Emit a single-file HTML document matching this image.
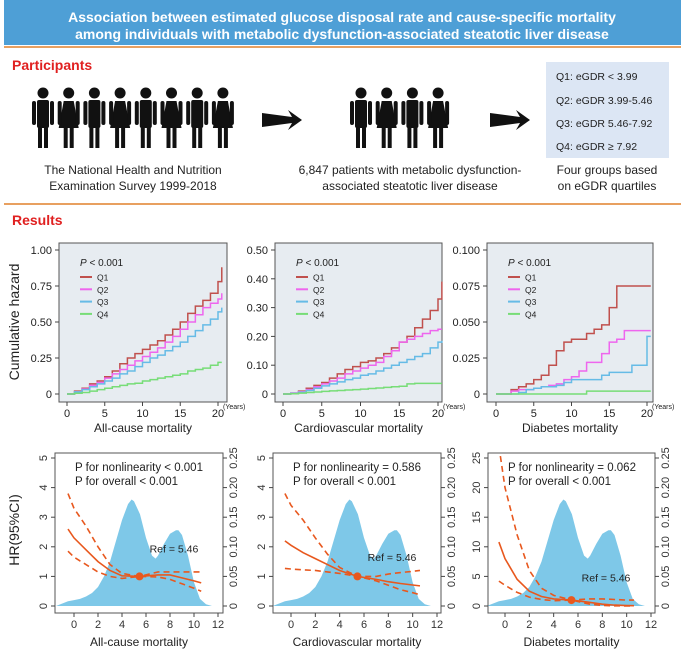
<!DOCTYPE html>
<html><head><meta charset="utf-8"><style>
body{margin:0;background:#fff}
svg{display:block;font-family:"Liberation Sans",sans-serif}
</style></head><body>
<svg id="s" width="685" height="653" viewBox="0 0 685 653" xmlns="http://www.w3.org/2000/svg">
<rect x="4" y="0" width="677" height="45" fill="#4e9fd6"/>
<text x="342" y="22" text-anchor="middle" fill="#fff" font-weight="bold" font-size="14">Association between estimated glucose disposal rate and cause-specific mortality</text>
<text x="342" y="39" text-anchor="middle" fill="#fff" font-weight="bold" font-size="14">among individuals with metabolic dysfunction-associated steatotic liver disease</text>
<line x1="4" y1="47" x2="681" y2="47" stroke="#e8a060" stroke-width="2"/>
<text x="12" y="70" fill="#e02020" font-weight="bold" font-size="14">Participants</text>
<g id="people1"></g>
<g id="people2"></g>
<path d="M262,113 L292,117 L288,110 L302,120 L288,130 L292,123 L262,127 Z" fill="#111"/>
<path d="M490,113 L520,117 L516,110 L530,120 L516,130 L520,123 L490,127 Z" fill="#111"/>
<rect x="546" y="62" width="123" height="96" fill="#dce6f4"/>
<g font-size="10.5" fill="#222">
<text x="556" y="80">Q1: eGDR &lt; 3.99</text>
<text x="556" y="104">Q2: eGDR 3.99-5.46</text>
<text x="556" y="127">Q3: eGDR 5.46-7.92</text>
<text x="556" y="150">Q4: eGDR ≥ 7.92</text>
</g>
<g font-size="12" fill="#222" text-anchor="middle">
<text x="133" y="174">The National Health and Nutrition</text>
<text x="133" y="190">Examination Survey 1999-2018</text>
<text x="410" y="174">6,847 patients with metabolic dysfunction-</text>
<text x="410" y="190">associated steatotic liver disease</text>
<text x="607" y="174">Four groups based</text>
<text x="607" y="190">on eGDR quartiles</text>
</g>
<line x1="4" y1="204" x2="681" y2="204" stroke="#e8a060" stroke-width="2"/>
<text x="12" y="225" fill="#e02020" font-weight="bold" font-size="14">Results</text>
<text transform="translate(19,322) rotate(-90)" text-anchor="middle" font-size="14" fill="#222">Cumulative hazard</text>
<text transform="translate(19,530) rotate(-90)" text-anchor="middle" font-size="14" fill="#222">HR(95%CI)</text>
<g id="charts"></g>
</svg>
<script>
// ---- data ----
const years=[0,1,2,3,4,5,6,7,8,9,10,11,12,13,14,15,16,17,18,19,20,20.5];
const allQ1=[0,0.02,0.04,0.07,0.09,0.12,0.16,0.21,0.25,0.28,0.31,0.34,0.37,0.41,0.45,0.50,0.56,0.61,0.65,0.70,0.78,0.88];
const allQ2=[0,0.015,0.035,0.06,0.08,0.11,0.14,0.17,0.2,0.23,0.26,0.29,0.32,0.36,0.40,0.45,0.5,0.55,0.6,0.63,0.66,0.70];
const allQ3=[0,0.015,0.03,0.05,0.07,0.09,0.11,0.14,0.16,0.19,0.22,0.25,0.27,0.30,0.33,0.36,0.40,0.44,0.48,0.52,0.57,0.60];
const allQ4=[0,0.005,0.01,0.02,0.03,0.04,0.05,0.06,0.07,0.075,0.09,0.1,0.11,0.12,0.13,0.14,0.16,0.17,0.18,0.2,0.22,0.22];
const cvdQ1=[0,0.003,0.01,0.02,0.03,0.04,0.055,0.07,0.085,0.095,0.11,0.115,0.125,0.14,0.16,0.18,0.2,0.23,0.26,0.29,0.33,0.39];
const cvdQ2=[0,0.003,0.008,0.015,0.025,0.035,0.045,0.055,0.07,0.08,0.09,0.1,0.11,0.13,0.15,0.18,0.19,0.2,0.21,0.22,0.225,0.225];
const cvdQ3=[0,0.002,0.006,0.012,0.02,0.028,0.035,0.042,0.05,0.055,0.065,0.07,0.08,0.09,0.1,0.11,0.12,0.13,0.14,0.16,0.18,0.185];
const cvdQ4=[0,0.001,0.003,0.005,0.007,0.009,0.011,0.012,0.014,0.015,0.017,0.019,0.021,0.023,0.025,0.027,0.035,0.037,0.037,0.037,0.037,0.037];
const dmQ1=[0,0,0.003,0.005,0.007,0.01,0.013,0.02,0.03,0.036,0.038,0.038,0.042,0.045,0.048,0.06,0.075,0.075,0.075,0.075,0.075,0.075];
const dmQ2=[0,0,0.002,0.003,0.003,0.004,0.005,0.006,0.007,0.01,0.012,0.016,0.022,0.022,0.028,0.036,0.038,0.044,0.044,0.044,0.044,0.044];
const dmQ3=[0,0,0,0.001,0.003,0.004,0.005,0.005,0.006,0.008,0.01,0.01,0.01,0.01,0.013,0.015,0.015,0.015,0.02,0.02,0.04,0.04];
const dmQ4=[0,0,0,0,0,0,0,0,0,0,0,0,0.002,0.002,0.002,0.002,0.002,0.002,0.002,0.002,0.002,0.002];
const cumTicks1=["0","0.25","0.50","0.75","1.00"];
const cumTicks2=["0","0.10","0.20","0.30","0.40","0.50"];
const cumTicks3=["0","0.025","0.050","0.075","0.100"];
const yearTicks=[0,5,10,15,20];
const densX=[-1.5,-1,-0.5,0,0.5,1,1.5,2,2.5,3,3.5,4,4.5,4.8,5,5.5,6,6.5,6.8,7,7.5,8,8.5,8.7,9,9.5,10,10.5,11,11.5,12];
const densY=[0,0.004,0.008,0.01,0.012,0.016,0.022,0.032,0.05,0.075,0.11,0.145,0.172,0.18,0.177,0.155,0.115,0.085,0.08,0.085,0.105,0.122,0.128,0.128,0.12,0.085,0.04,0.012,0.003,0,0];
const hrX=[-0.5,0,1,2,3,4,5.46,7,8,9,10,10.6];
const hrAll=[2.6,2.3,1.9,1.5,1.2,1.02,1.0,1.05,1.05,0.95,0.85,0.78];
const hrAllHi=[3.8,3.3,2.7,2.0,1.4,1.1,1.0,1.15,1.15,1.15,1.15,1.15];
const hrAllLo=[1.85,1.65,1.4,1.15,1.0,0.93,1.0,0.98,0.9,0.75,0.6,0.5];
const hrCvd=[2.2,2.05,1.8,1.6,1.4,1.2,1.0,0.9,0.82,0.76,0.71,0.68];
const hrCvdHi=[3.8,3.4,2.9,2.3,1.75,1.3,1.0,1.0,1.08,1.13,1.17,1.2];
const hrCvdLo=[1.27,1.25,1.22,1.2,1.15,1.1,1.0,0.85,0.7,0.55,0.45,0.38];
const hrDm=[10.8,8,4.5,2.5,1.6,1.2,1.0,0.6,0.3,0.15,0.08,0.05];
const hrDmHi=[27,20,12,6,3,1.8,1.0,1.2,1.2,1.1,1.0,1.0];
const hrDmLo=[4.2,3.5,2.3,1.5,1.1,0.9,1.0,0.3,0.1,0.03,0.01,0];
const hrTicks1=[0,1,2,3,4,5];
const hrTicks3=[0,5,10,15,20,25];
const densTicks=["0","0.05","0.10","0.15","0.20","0.25"];
const eTicks=[0,2,4,6,8,10,12];
const refVal=5.46;

const NS="http://www.w3.org/2000/svg";
const root=document.getElementById('charts');
function mk(tag,attrs,parent){const e=document.createElementNS(NS,tag);for(const k in attrs)e.setAttribute(k,attrs[k]);(parent||root).appendChild(e);return e;}
function tx(x,y,s,attrs,parent){const e=mk('text',Object.assign({x:x,y:y},attrs||{}),parent);e.textContent=s;return e;}

// people
function person(g,x,female){
  mk('circle',{cx:x,cy:93,r:5.5,fill:'#111'},g);
  if(female){mk('path',{d:`M${x-5},101 L${x+5},101 L${x+10},128 L${x-10},128 Z`,fill:'#111'},g);}
  else mk('rect',{x:x-6,y:100,width:12,height:28,rx:2,fill:'#111'},g);
  mk('rect',{x:x-11,y:101,width:4,height:24,rx:2,fill:'#111'},g);
  mk('rect',{x:x+7,y:101,width:4,height:24,rx:2,fill:'#111'},g);
  mk('rect',{x:x-5,y:126,width:4,height:22,fill:'#111'},g);
  mk('rect',{x:x+1,y:126,width:4,height:22,fill:'#111'},g);
}
const p1=document.getElementById('people1'),p2=document.getElementById('people2');
for(let i=0;i<8;i++)person(p1,43+i*25.7,i%2==1);
for(let i=0;i<4;i++)person(p2,361+i*25.7,i%2==1);

// cumulative hazard charts
const qColors=['#c0504d','#ee66ee','#66bbe6','#77dd77'];
function cumChart(name,box,x0,x20,ymax,ticks,series,title){
  const g=mk('g',{});
  
  
  const sx=v=>x0+(x20-x0)*v/20, sy=v=>394-(394-250)*v/ymax;
  mk('rect',{x:box[0],y:243,width:box[1]-box[0],height:159,fill:'#e7ecf1',stroke:'#555','stroke-width':1},g);
  ticks.forEach((t,i)=>{const v=ymax*i/(ticks.length-1);const y=sy(v);
    mk('line',{x1:box[0]-4,y1:y,x2:box[0],y2:y,stroke:'#444'},g);
    tx(box[0]-7,y+4,t,{'text-anchor':'end','font-size':11,fill:'#222'},g);});
  yearTicks.forEach(t=>{const x=sx(t);mk('line',{x1:x,y1:402,x2:x,y2:406,stroke:'#444'},g);
    tx(x,417,String(t),{'text-anchor':'middle','font-size':11,fill:'#222'},g);});
  tx(sx(20)+5,409,'(Years)',{'font-size':7,fill:'#222'},g);
  tx((box[0]+box[1])/2,432,title,{'text-anchor':'middle','font-size':12,fill:'#222'},g);
  series.forEach((s,qi)=>{let d='';
    years.forEach((yr,i)=>{const x=sx(yr),y=sy(s[i]);
      if(i==0)d=`M${x},${y}`;else d+=` H${x} V${y}`;});
    const p=mk('path',{d:d,fill:'none',stroke:qColors[qi],'stroke-width':1.5},g);
    
    });
  const lx=box[0]+21;
  const pt=tx(lx,266,'',{'font-size':10,fill:'#222'},g);
  pt.innerHTML='<tspan font-style="italic">P</tspan> &lt; 0.001';
  ['Q1','Q2','Q3','Q4'].forEach((q,i)=>{const y=277+i*12.3;
    mk('line',{x1:lx,y1:y,x2:lx+12,y2:y,stroke:qColors[i],'stroke-width':2},g);
    tx(lx+17,y+3.5,q,{'font-size':8.5,fill:'#222'},g);});
}
cumChart('chart-allcause-hazard',[59,227],67,218,1.0,cumTicks1,[allQ1,allQ2,allQ3,allQ4],'All-cause mortality');
cumChart('chart-cvd-hazard',[275,442],283,438,0.5,cumTicks2,[cvdQ1,cvdQ2,cvdQ3,cvdQ4],'Cardiovascular mortality');
cumChart('chart-diabetes-hazard',[487,653],496,647,0.1,cumTicks3,[dmQ1,dmQ2,dmQ3,dmQ4],'Diabetes mortality');

// RCS charts
function rcsChart(name,box,x0,x12,hmax,hticks,hr,hi,lo,title,p1txt,refY){
  const g=mk('g',{});
  
  
  const sx=v=>x0+(x12-x0)*v/12, sy=v=>606-(606-458)*v/hmax, sd=v=>606-(606-458)*v/0.25;
  mk('clipPath',{id:'c'+name},g);
  mk('rect',{x:box[0],y:453,width:box[1]-box[0],height:160},g.lastChild);
  const cg=mk('g',{'clip-path':`url(#c${name})`},g);
  let d=`M${sx(densX[0])},${sd(0)}`;densX.forEach((x,i)=>d+=` L${sx(x)},${sd(densY[i])}`);d+=` L${sx(densX[densX.length-1])},${sd(0)} Z`;
  const dp=mk('path',{d:d,fill:'#7ec8e8'},cg);
  
  
  const line=(arr,dash,nm)=>{let s='';hrX.forEach((x,i)=>s+=(i?' L':'M')+sx(x)+','+sy(arr[i]));
    const p=mk('path',{d:s,fill:'none',stroke:'#e8581e','stroke-width':1.6,'stroke-dasharray':dash?'6,4':'none'},cg);
    
    };
  line(hi,true,'ci-upper');line(lo,true,'ci-lower');line(hr,false,'hr-curve');
  mk('circle',{cx:sx(refVal),cy:sy(1),r:4,fill:'#e8581e'},g);
  mk('rect',{x:box[0],y:453,width:box[1]-box[0],height:160,fill:'none',stroke:'#555'},g);
  hticks.forEach(t=>{const y=sy(t);mk('line',{x1:box[0]-4,y1:y,x2:box[0],y2:y,stroke:'#444'},g);
    tx(0,0,String(t),{'text-anchor':'middle','font-size':11,fill:'#333',transform:`translate(${box[0]-8},${y}) rotate(-90)`},g);});
  densTicks.forEach((t,i)=>{const y=sd(0.05*i);mk('line',{x1:box[1],y1:y,x2:box[1]+4,y2:y,stroke:'#444'},g);
    tx(0,0,t,{'text-anchor':'middle','font-size':11,fill:'#333',transform:`translate(${box[1]+14},${y}) rotate(-90)`},g);});
  eTicks.forEach(t=>{const x=sx(t);mk('line',{x1:x,y1:613,x2:x,y2:617,stroke:'#444'},g);
    tx(x,628,String(t),{'text-anchor':'middle','font-size':11,fill:'#333'},g);});
  tx((box[0]+box[1])/2,646,title,{'text-anchor':'middle','font-size':12,fill:'#222'},g);
  tx(box[0]+20,471,p1txt,{'font-size':11.5,fill:'#222'},g);
  tx(box[0]+20,485,'P for overall < 0.001',{'font-size':11.5,fill:'#222'},g);
  tx(sx(6.3),sy(refY)+4,'Ref = 5.46',{'font-size':10.5,fill:'#222'},g);
}
rcsChart('chart-allcause-rcs',[55,223],74,218,5,hrTicks1,hrAll,hrAllHi,hrAllLo,'All-cause mortality','P for nonlinearity < 0.001',1.95);
rcsChart('chart-cvd-rcs',[273,441],291,437,5,hrTicks1,hrCvd,hrCvdHi,hrCvdLo,'Cardiovascular mortality','P for nonlinearity = 0.586',1.65);
rcsChart('chart-diabetes-rcs',[488,655],505,651,25,hrTicks3,hrDm,hrDmHi,hrDmLo,'Diabetes mortality','P for nonlinearity = 0.062',4.8);
</script>
</body></html>
